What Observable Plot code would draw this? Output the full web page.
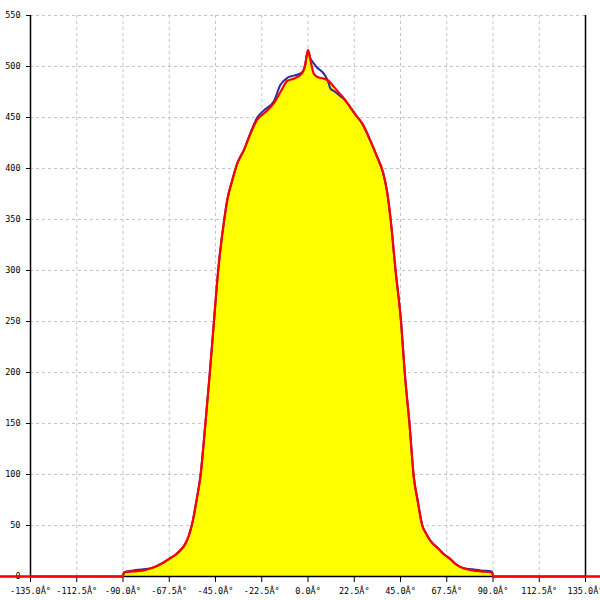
<!DOCTYPE html>
<html>
<head>
<meta charset="utf-8">
<script src="https://cdn.jsdelivr.net/npm/d3@7"></script>
<script src="https://cdn.jsdelivr.net/npm/@observablehq/plot@0.6"></script>
<style>
  html, body { margin: 0; padding: 0; background: #fff; }
  #chart { width: 600px; height: 600px; }
</style>
</head>
<body>
<div id="chart"></div>
<script>
// Angle (degrees) sample positions
const angles = [-180, -90.2, -89.5, -85, -80, -75, -70, -67, -64, -62, -60, -58, -56, -54.2, -52.3, -50, -47.8, -45.8, -43.7, -40.6, -39.3, -36.9, -34.4, -31.2, -28, -24.7, -21.5, -16.6, -13.4, -10, -7, -3, -1.5, 0, 1.2, 2.8, 4.4, 7.7, 10, 11, 12.6, 15.6, 17.4, 20.6, 23, 26.4, 30.4, 33.5, 36.5, 38.5, 40.1, 42.6, 45.3, 47.1, 49.4, 51.5, 53.3, 55.6, 57.5, 59.6, 63.6, 66, 69.3, 72, 75.8, 80, 84, 89.5, 90.2, 180];
// Red series (filled)
const redValues = [0, 0, 4, 5, 6, 9, 14, 18, 22, 26, 31, 40, 55, 75, 99, 148, 199, 249, 300, 352, 369, 388, 405, 418, 434, 448, 454, 464, 475, 486, 488, 493, 500, 516, 506, 493, 490, 488, 486, 484, 480, 473, 469, 460, 453, 444, 427, 412, 396, 377, 352, 300, 249, 199, 149, 97, 75, 50, 42, 35, 27, 22, 17, 12, 8, 6, 5, 4, 0, 0];
// Blue series
const blueValues = [0, 0, 4, 6, 7, 9, 14, 18, 22, 26, 31, 40, 55, 75, 99, 148, 199, 249, 300, 352, 369, 388, 405, 418, 435, 450, 457, 466, 482, 489, 491, 494, 501, 516, 508, 503, 499, 493, 484, 478, 476, 471, 468, 460, 453, 444, 427, 412, 396, 377, 352, 300, 249, 199, 149, 97, 75, 50, 42, 35, 27, 22, 17, 12, 8, 7, 6, 5, 0, 0];

const xTicks = [-135, -112.5, -90, -67.5, -45, -22.5, 0, 22.5, 45, 67.5, 90, 112.5, 135];
const xTickLabels = ["-135.0Â°", "-112.5Â°", "-90.0Â°", "-67.5Â°", "-45.0Â°", "-22.5Â°", "0.0Â°", "22.5Â°", "45.0Â°", "67.5Â°", "90.0Â°", "112.5Â°", "135.0Â°"];
const yTicks = [0, 50, 100, 150, 200, 250, 300, 350, 400, 450, 500, 550];

const red = angles.map((a, i) => ({angle: a, value: redValues[i]}));
const blue = angles.map((a, i) => ({angle: a, value: blueValues[i]}));

const chart = Plot.plot({
  width: 600,
  height: 600,
  marginTop: 15,
  marginBottom: 24,
  marginLeft: 30,
  marginRight: 15,
  style: {fontFamily: "'DejaVu Sans Mono', monospace", fontSize: "8.5px", color: "#000", background: "#fff"},
  x: {domain: [-135, 135]},
  y: {domain: [0, 550]},
  marks: [
    Plot.gridX(xTicks.filter(d => Math.abs(d) < 135), {stroke: "#c4c4c4", strokeOpacity: 1, strokeDasharray: "3,3"}),
    Plot.gridY(yTicks.filter(d => d > 0), {stroke: "#c4c4c4", strokeOpacity: 1, strokeDasharray: "3,3"}),
    Plot.areaY(red, {x: "angle", y: "value", fill: "#ffff00", curve: "monotone-x", clip: false}),
    Plot.ruleY([0], {stroke: "#000", strokeWidth: 1.5}),
    Plot.ruleX([-135, 135], {stroke: "#000", strokeWidth: 1.5}),
    Plot.axisX(xTicks, {label: null, tickSize: 6, tickPadding: 5, stroke: "#000", tickFormat: d => xTickLabels[xTicks.indexOf(d)]}),
    Plot.axisY(yTicks, {label: null, tickSize: 4, tickPadding: 6, stroke: "#000", tickFormat: d => String(d)}),
    Plot.lineY(blue, {x: "angle", y: "value", stroke: "#2b2b9c", strokeWidth: 2, curve: "monotone-x", clip: false}),
    Plot.lineY(red, {x: "angle", y: "value", stroke: "#ff0000", strokeWidth: 2.2, curve: "monotone-x", clip: false})
  ]
});
document.getElementById("chart").appendChild(chart);
</script>
</body>
</html>
